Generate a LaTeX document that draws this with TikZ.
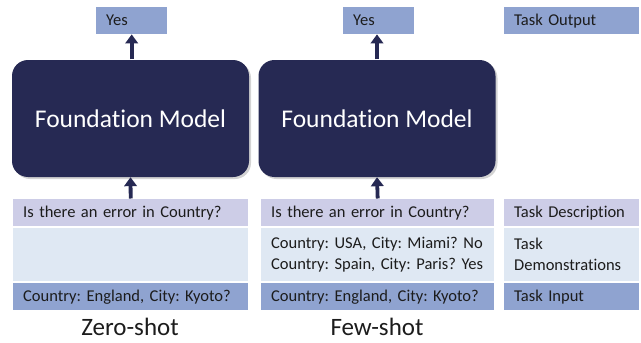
\documentclass[tikz,border=0pt]{standalone}
\usepackage{fontspec}
\setmainfont[Ligatures=NoCommon]{Carlito}
\usetikzlibrary{positioning, shadows, arrows.meta}
\frenchspacing

\definecolor{navy}{HTML}{262953}
\definecolor{lavender}{HTML}{CDCDE7}
\definecolor{paleblue}{HTML}{DFE8F3}
\definecolor{midblue}{HTML}{8FA3D0}
\definecolor{ink}{HTML}{1C1C1C}

\begin{document}
\begin{tikzpicture}[x=1pt, y=-1pt,
	every node/.style={inner sep=0pt, text=ink, font=\fontsize{16.5}{21}\selectfont},
	model/.style={fill=navy, rounded corners=16pt, minimum width=237, minimum height=117, text=white, font=\fontsize{25.5}{30}\selectfont, drop shadow={opacity=0.35, shadow xshift=2pt, shadow yshift=-2pt}},
	tbox/.style={anchor=north west, align=left, minimum height=27, inner xsep=10pt},
	arr/.style={navy, line width=3.8pt, -{Triangle[width=12.5pt, length=9pt]}, shorten <=0.5pt}]

\useasboundingbox (0,0) rectangle (641,343);

	% zero-shot
	\node[tbox, fill=midblue, text width=51] (yes0) at (96,7) {Yes};
	\node[model] (fm0) at (130.5,118.5) {Foundation Model};
	\node[tbox, fill=lavender, text width=215] (desc0) at (13,199) {Is there an error in Country?};
	\node[tbox, fill=paleblue, text width=215, minimum height=53] (demo0) at (13,228) {};
	\node[tbox, fill=midblue, text width=215] (input0) at (13,283) {Country: England, City: Kyoto?};
	\node[font=\fontsize{25}{28}\selectfont] (zero) at (130,327) {Zero-shot};

	% few-shot
	\node[tbox, fill=midblue, text width=51] (yes1) at (343,7) {Yes};
	\node[model] (fm1) at (377,118.5) {Foundation Model};
	\node[tbox, fill=lavender, text width=213] (desc1) at (261,199) {Is there an error in Country?};
	\node[tbox, fill=paleblue, text width=213, minimum height=53] (demo1) at (261,228) {Country: USA, City: Miami? No\\Country: Spain, City: Paris? Yes};
	\node[tbox, fill=midblue, text width=213] (input1) at (261,283) {Country: England, City: Kyoto?};
	\node[font=\fontsize{25}{28}\selectfont] (few) at (377,327) {Few-shot};

	% legend
	\node[tbox, fill=midblue, text width=115] (output) at (504,7) {Task Output};
	\node[tbox, fill=lavender, text width=115] (descr) at (504,199) {Task Description};
	\node[tbox, fill=paleblue, text width=115, minimum height=53] (demos) at (504,228) {Task\\Demonstrations};
	\node[tbox, fill=midblue, text width=115] (inp) at (504,283) {Task Input};

\draw[arr] (fm0.north -| yes0.south) -- (yes0.south);
\draw[arr] (desc0.north) -- (fm0.south);
\draw[arr] (fm1.north) -- (yes1.south -| fm1.north);
\draw[arr] (desc1.north) -- (fm1.south);
\end{tikzpicture}
\end{document}
